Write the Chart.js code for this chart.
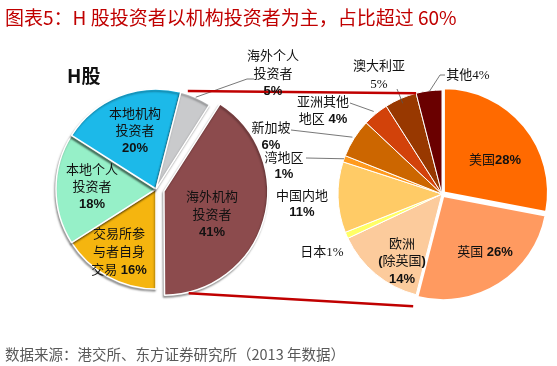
<!DOCTYPE html>
<html><head><meta charset="utf-8">
<script src="https://cdn.jsdelivr.net/npm/chart.js@4"></script>
<style>
html,body{margin:0;padding:0;background:#fff;}
#wrap{position:relative;width:557px;height:366px;overflow:hidden;background:#fff;}
canvas{position:absolute;left:0;top:0;}
.lbl{position:absolute;transform:translateX(-50%);text-align:center;white-space:nowrap;color:#111;font-family:"Noto Sans CJK SC",sans-serif;font-size:13px;}
.lbl .a{font-family:"Liberation Sans",Arial,sans-serif;font-weight:bold;}
.lbl .p{font-family:"Liberation Serif",serif;font-weight:normal;}
#title{position:absolute;left:5px;top:3px;font-family:"Noto Sans CJK SC",sans-serif;font-size:19px;color:#C00000;white-space:nowrap;line-height:28px;}
#hg{position:absolute;left:67px;top:62px;font-family:"Noto Sans CJK SC",sans-serif;font-weight:bold;font-size:19px;color:#111;line-height:26px;}
#src{position:absolute;left:5px;top:343px;font-family:"Noto Sans CJK SC",sans-serif;font-size:14.5px;color:#595959;white-space:nowrap;line-height:22px;}
</style></head>
<body><div id="wrap">
<canvas id="rightPie" width="557" height="366"></canvas>
<canvas id="leftPie" width="557" height="366"></canvas>
<div id="title">图表5：H 股投资者以机构投资者为主，占比超过 60%</div>
<div id="hg">H股</div>
<div id="src">数据来源：港交所、东方证券研究所（2013 年数据）</div>
</div>
<script>
// ---- data ----
const leftCategories = ["海外机构投资者","交易所参与者自身交易","本地个人投资者","本地机构投资者","海外个人投资者"];
const leftValues = [41,16,18,20,5];
const rightCategories = ["美国","英国","欧洲(除英国)","日本","中国内地","湾地区","新加坡","亚洲其他地区","澳大利亚","其他"];
const rightValues = [28,26,14,1,11,1,6,4,5,4];

// ---- styles ----
const leftColors = ["#8C4B4D","#F5B50F","#96F0C8","#1CB9E9","#C9CACC"];
const rightColors = ["#FF6A00","#FF9A60","#FCCB9C","#FFFF66","#FFCB66","#FF9A1E","#CC6600","#D2420A","#983800","#6A0000"];

// label layout: cx, y (first line centre), lh, br (break indices), sep, plain, leader anchors, rf
const leftLabelLayout = [
  {cx:212,y:196,lh:17.5,br:[4],sep:"\n"},
  {cx:119,y:233,lh:18,br:[4,8],sep:" "},
  {cx:92,y:168,lh:17,br:[4],sep:"\n"},
  {cx:135,y:112,lh:17,br:[4],sep:"\n"},
  {cx:273,y:55,lh:17.5,br:[4],sep:"\n",leader:[[254,79],[247,79]],rf:1.0}
];
const rightLabelLayout = [
  {cx:495,y:158,lh:17,br:[],sep:""},
  {cx:485,y:250,lh:17,br:[],sep:" "},
  {cx:402,y:242,lh:17,br:[2],sep:"\n"},
  {cx:322,y:250,lh:17,br:[],sep:"",plain:true},
  {cx:302,y:195,lh:16,br:[],sep:"\n"},
  {cx:284,y:157,lh:16,br:[],sep:"\n",leader:[[306,158]],rf:1.0},
  {cx:271,y:126,lh:17,br:[],sep:"\n",leader:[[291,130]],rf:1.02},
  {cx:323,y:100,lh:17,br:[4],sep:" ",leader:[[350,103]],rf:1.03},
  {cx:379,y:65,lh:18,br:[],sep:"\n",plain:true,leader:[[397,89]],rf:0.95},
  {cx:468,y:73,lh:17,br:[],sep:"",plain:true,leader:[[445,75],[440,75]],rf:0.99}
];

function esc(s){return s.replace(/&/g,"&amp;").replace(/</g,"&lt;");}
function runs(line, plain){
  let out="", buf="", isA=null;
  const flush=()=>{ if(!buf) return; out += isA ? '<span class="'+(plain?'p':'a')+'">'+esc(buf)+'</span>' : esc(buf); buf=""; };
  for(const ch of line){
    const a = /[\x00-\x7F]/.test(ch);
    if(isA!==null && a!==isA) flush();
    isA=a; buf+=ch;
  }
  flush(); return out;
}
function makeLabels(cats, vals, layout){
  const wrap=document.getElementById("wrap");
  cats.forEach((c,i)=>{
    const L=layout[i]; const parts=[]; let p=0;
    L.br.forEach(b=>{parts.push(c.slice(p,b)); p=b;}); parts.push(c.slice(p));
    const pct = vals[i]+"%";
    if(L.sep==="\n") parts.push(pct); else parts[parts.length-1]+=L.sep+pct;
    const d=document.createElement("div"); d.className="lbl";
    d.style.left=L.cx+"px"; d.style.top=(L.y-L.lh/2)+"px"; d.style.lineHeight=L.lh+"px";
    d.innerHTML=parts.map(s=>runs(s,L.plain)).join("<br>");
    wrap.appendChild(d);
  });
}
makeLabels(leftCategories,leftValues,leftLabelLayout);
makeLabels(rightCategories,rightValues,rightLabelLayout);

function shift(arc){
  const o=(arc.options.offset||0)/4, circ=arc.endAngle-arc.startAngle;
  const fix=1-Math.sin(Math.min(Math.PI,circ)), t=o*(1+fix), h=(arc.startAngle+arc.endAngle)/2;
  return [Math.cos(h)*t, Math.sin(h)*t];
}
function arcPt(arc, frac, rf, extra){
  const a=arc.startAngle+frac*(arc.endAngle-arc.startAngle), s=shift(arc);
  const r=arc.outerRadius*rf+(extra||0);
  return [arc.x+s[0]+r*Math.cos(a), arc.y+s[1]+r*Math.sin(a)];
}
function drawLeaders(ctx, meta, layout){
  ctx.save(); ctx.strokeStyle="#555"; ctx.lineWidth=0.8;
  layout.forEach((L,i)=>{
    if(!L.leader) return;
    const p=arcPt(meta.data[i],0.5,L.rf);
    ctx.beginPath(); ctx.moveTo(L.leader[0][0],L.leader[0][1]);
    L.leader.slice(1).forEach(q=>ctx.lineTo(q[0],q[1]));
    ctx.lineTo(p[0],p[1]); ctx.stroke();
  });
  ctx.restore();
}
const shadowPlugin = {
  id:"shade",
  beforeDatasetsDraw(chart){ const c=chart.ctx; c.save(); c.shadowColor="rgba(0,0,0,0.35)"; c.shadowBlur=2; c.shadowOffsetX=-1; c.shadowOffsetY=2; },
  afterDatasetsDraw(chart){ chart.ctx.restore(); }
};

const common = {
  responsive:false, animation:false, events:[],
  plugins:{legend:{display:false},tooltip:{enabled:false}}
};

const rightChart = new Chart(document.getElementById("rightPie"),{
  type:"pie",
  data:{labels:rightCategories,datasets:[{data:rightValues,backgroundColor:rightColors,
    borderColor:"#fff",borderWidth:[2,2,1,1,1,1,1,1,1,1],offset:[10,10,0,0,0,0,0,0,0,0],radius:104,clip:false}]},
  options:Object.assign({},common,{rotation:0,layout:{padding:{left:327,right:0,top:22,bottom:0}}}),
  plugins:[{id:"rl",afterDatasetsDraw(chart){drawLeaders(chart.ctx,chart.getDatasetMeta(0),rightLabelLayout);}}]
});

const leftTotal = leftValues.reduce((a,b)=>a+b,0);
const leftChart = new Chart(document.getElementById("leftPie"),{
  type:"pie",
  data:{labels:leftCategories,datasets:[{data:leftValues,backgroundColor:leftColors,
    borderColor:"#fff",borderWidth:1.5,offset:[33,0,0,0,0],radius:100,clip:false}]},
  options:Object.assign({},common,{rotation:180-360*leftValues[0]/leftTotal,layout:{padding:{left:0,right:245,top:12,bottom:0}}}),
  plugins:[shadowPlugin,{id:"ll",afterDatasetsDraw(chart){
    const ctx=chart.ctx, lm=chart.getDatasetMeta(0), rm=rightChart.getDatasetMeta(0);
    drawLeaders(ctx,lm,leftLabelLayout);
    // connector lines between the two pies
    const gray=lm.data[4], red=lm.data[0], other=rm.data[9], eu=rm.data[2];
    const t1=arcPt(gray,0.2,1,3), t2=arcPt(other,0,1,0);
    const b1=arcPt(red,0.92,1,3), b2=arcPt(eu,0,1,12);
    ctx.save(); ctx.strokeStyle="#C00000"; ctx.lineWidth=2.5;
    ctx.beginPath(); ctx.moveTo(t1[0],t1[1]); ctx.lineTo(t2[0],t2[1]); ctx.stroke();
    ctx.beginPath(); ctx.moveTo(b1[0],b1[1]); ctx.lineTo(b2[0],b2[1]); ctx.stroke();
    ctx.restore();
  }}]
});
</script>
</body></html>
